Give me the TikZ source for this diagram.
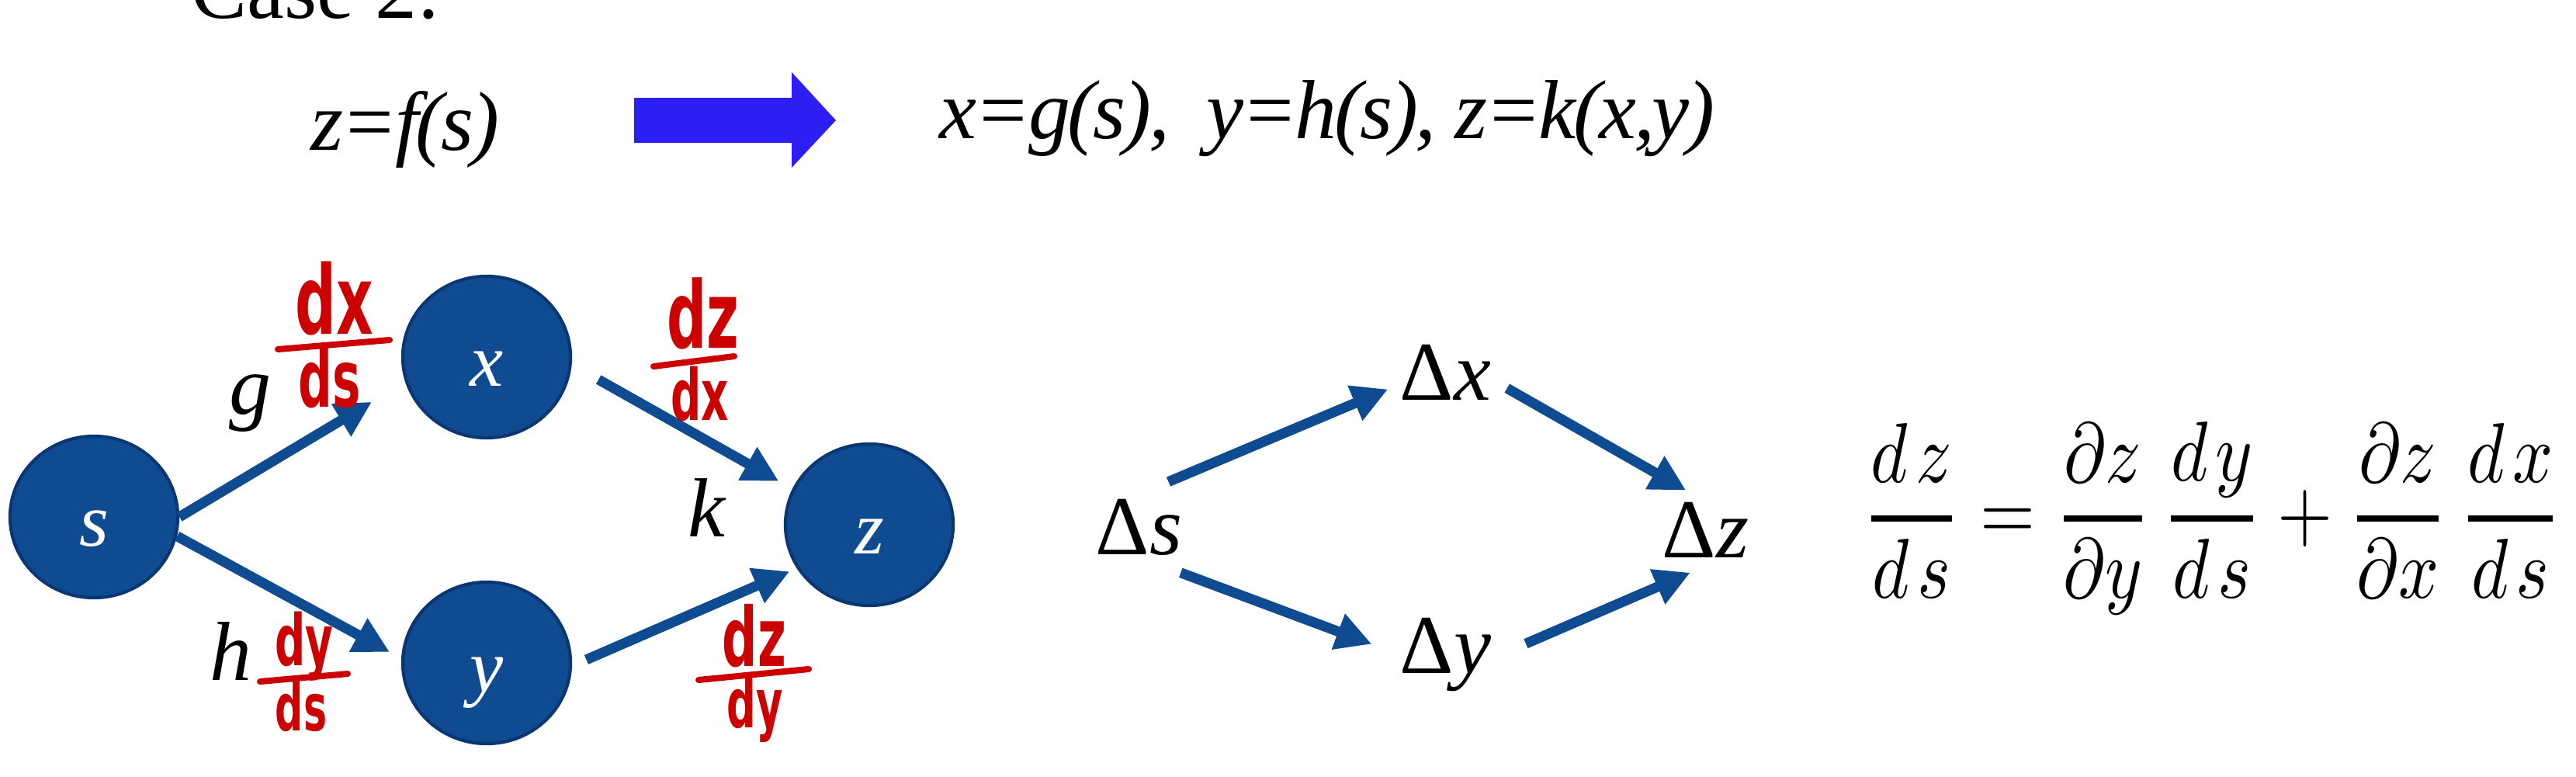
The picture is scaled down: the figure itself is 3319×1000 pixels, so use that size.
\documentclass[tikz,border=0pt]{standalone}
\usepackage{amsmath}
\usepackage{graphicx}
\usepackage{fontspec}
\setmainfont{Liberation Serif}
\newfontfamily\handfont{DejaVu Sans}[FakeStretch=0.6]
\usetikzlibrary{arrows.meta,shapes.geometric}
\definecolor{nodeblue}{RGB}{15,75,145}
\definecolor{nodeedge}{RGB}{10,55,115}
\definecolor{inkred}{RGB}{205,0,0}
\definecolor{bigarrow}{RGB}{45,30,245}
\begin{document}
\begin{tikzpicture}[x=0.01cm,y=-0.01cm,
  txt/.style={inner sep=0pt, font=\fontsize{30.7pt}{37pt}\selectfont},
  tight/.style={inner sep=0pt, font=\fontsize{30.7pt}{37pt}\selectfont\addfontfeatures{LetterSpace=-3}},
  var/.style={ellipse, fill=nodeblue, draw=nodeedge, line width=1.2pt, inner sep=0pt,
    text=white, font=\fontsize{27.6pt}{33pt}\selectfont\itshape,
    text height=0.74cm, text depth=0pt, minimum width=2.16cm, minimum height=2.08cm},
  link/.style={draw=nodeblue, line width=0.13cm, -{Triangle[length=0.46cm,width=0.46cm]}},
  hand/.style={inner sep=0pt, text=inkred, anchor=base, font=\fontsize{#1}{#1}\handfont\bfseries},
  handbar/.style={draw=inkred, line width=0.08cm, line cap=round}]
\useasboundingbox (0,0) rectangle (3319,1000);
\clip (0,0) rectangle (3319,1000);

% header
\node[txt, anchor=base west] (case) at (246,23) {Case 2:};
\node[tight, anchor=base west] (zf) at (400,193) {\itshape z=f(s)};
\fill[bigarrow] (817,126) -- (1020,126) -- (1020,93) -- (1077,155) -- (1020,216) -- (1020,184) -- (817,184) -- cycle;
\node[tight, anchor=base west] (xg) at (1210,178) {\itshape x=g(s),\ \ y=h(s), z=k(x,y)};

% left graph
\node[var] (s) at (121,666) {s};
\node[var] (x) at (627,460) {x};
\node[var] (y) at (627,854) {y};
\node[var] (z) at (1120,676) {z};

\draw[link, shorten >=0.5cm] (s.0) -- (x.197);
\draw[link, shorten >=0.17cm] (s.-13) -- (y.177);
\draw[link, shorten <=0.395cm, shorten >=0.2cm] (x.-5) -- (z.155);
\draw[link, shorten <=0.2cm, shorten >=0.1cm] (y.-2) -- (z.211);

\node[txt, anchor=base west] (lg) at (295,533) {\textit{g}};
\node[txt, anchor=base west] (lh) at (270,876) {\textit{h}};
\node[txt, anchor=base west] (lk) at (886,691) {\textit{k}};

% handwritten derivatives
\node[hand=35pt] (gxn) at (431,430) {dx};
\draw[handbar] (358,450) -- (502,438);
\node[hand=29pt] (gxd) at (425,524) {ds};

\node[hand=34pt] (kxn) at (906,448) {dz};
\draw[handbar] (842,472) -- (946,459);
\node[hand=26pt] (kxd) at (902,541) {dx};

\node[hand=26pt] (hyn) at (392,857) {dy};
\draw[handbar] (335,878) -- (448,868);
\node[hand=24pt] (hyd) at (388,941) {ds};

\node[hand=30pt] (kyn) at (972,858) {dz};
\draw[handbar] (900,876) -- (1042,862);
\node[hand=25pt] (kyd) at (973,937) {dy};

% increments
\node[txt, anchor=base west] (Ds) at (1411,714) {Δ\textit{s}};
\node[txt, anchor=base west] (Dx) at (1803,515) {Δ\textit{x}};
\node[txt, anchor=base west] (Dy) at (1803,867) {Δ\textit{y}};
\node[txt, anchor=base west] (Dz) at (2141,718) {Δ\textit{z}};

\draw[link, shorten <=0.55cm, shorten >=0.16cm] (Ds.109) -- (Dx.195);
\draw[link, shorten <=0.63cm, shorten >=0.38cm] (Ds.262) -- (Dy.west);
\draw[link, shorten <=0.23cm, shorten >=0.29cm] (Dx.-9) -- (Dz.north);
\draw[link, shorten <=0.48cm, shorten >=0.48cm] (Dy.-5) -- (Dz.-56);

% chain rule
\node[inner sep=0pt, anchor=north west] (eq) at (2399,543) {\resizebox*{9cm}{2.48cm}{$\displaystyle
  \genfrac{}{}{0.7pt}{}{d\mkern2mu z}{d\mkern2mu s} = \genfrac{}{}{0.7pt}{}{\partial z}{\partial y}\,\genfrac{}{}{0.7pt}{}{d\mkern2mu y}{d\mkern2mu s}
  + \genfrac{}{}{0.7pt}{}{\partial z}{\partial x}\,\genfrac{}{}{0.7pt}{}{d\mkern2mu x}{d\mkern2mu s}$}};
\end{tikzpicture}
\end{document}
